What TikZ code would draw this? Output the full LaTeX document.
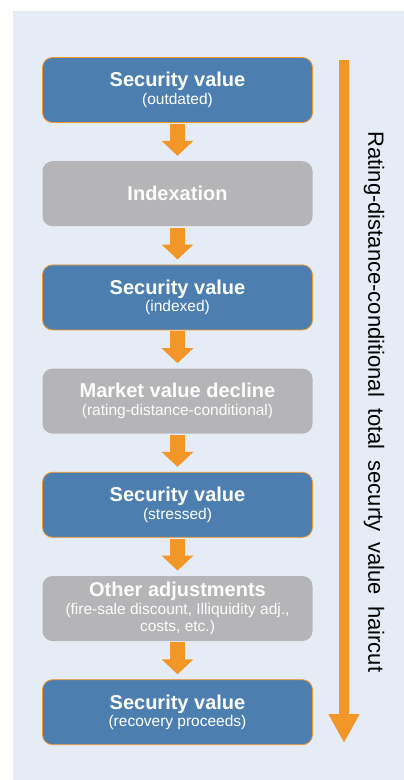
\documentclass[tikz,border=0pt]{standalone}
\usepackage{fontspec}
\setmainfont{Liberation Sans}
\usepackage{tikz}
\usetikzlibrary{positioning}
\usetikzlibrary{arrows.meta}
\definecolor{mybg}{RGB}{230, 236, 245}
\definecolor{myblue}{RGB}{76, 127, 176}
\definecolor{mygray}{RGB}{181, 181, 183}
\definecolor{myorange}{RGB}{243, 150, 40}
\newcommand{\steptitle}[1]{{\bfseries\fontsize{20}{17.5}\selectfont #1}}
\newcommand{\steptext}[2]{\steptitle{#1}\\#2}

\begin{document}
\begin{tikzpicture}[x=1pt,y=-1pt,node distance=103.7pt,on grid]
    % fondo
    \useasboundingbox (0,0) rectangle (404,780);
    \fill[mybg] (13,11) rectangle (404,780);
    \tikzstyle{every node}=[font=\fontsize{15.5}{17.5}\selectfont,text=white,align=center]
    \tikzstyle{valuebox}=[draw=myorange,line width=0.8pt,fill=myblue,rounded corners=10pt,minimum width=270pt,minimum height=65pt,inner sep=0pt]
    \tikzstyle{adjbox}=[valuebox,draw=none,fill=mygray,text=white!96!mygray]
    \tikzstyle{flow}=[draw=myorange,line width=15pt,-{Triangle[width=31pt,length=15pt]},shorten <=1pt,shorten >=5pt]
    \node[valuebox] (v_0) at (177.5,90) {\steptext{Security value}{(outdated)}};
    \node[adjbox] (a_1) [below=of v_0] {\steptitle{Indexation}};
    \node[valuebox] (v_1) [below=of a_1] {\steptext{Security value}{(indexed)}};
    \node[adjbox] (a_2) [below=of v_1] {\steptext{Market value decline}{(rating-distance-conditional)}};
    \node[valuebox] (v_2) [below=of a_2] {\steptext{Security value}{(stressed)}};
    \node[adjbox] (a_3) [below=of v_2] {\steptext{Other adjustments}{(fire-sale discount, Illiquidity adj.,\\costs, etc.)}};
    \node[valuebox] (v_3) [below=of a_3] {\steptext{Security value}{(recovery proceeds)}};

    \path
    (v_0) edge[flow] (a_1)
    (a_1) edge[flow] (v_1)
    (v_1) edge[flow] (a_2)
    (a_2) edge[flow] (v_2)
    (v_2) edge[flow] (a_3)
    (a_3) edge[flow] (v_3);

    % flecha del haircut total
    \coordinate (h_top) at (344,60);
    \coordinate (h_end) at (344,743);
    \draw[myorange,line width=10pt,-{Triangle[width=29pt,length=29pt]}] (h_top) -- (h_end);
    \node[rotate=-90,text=black,inner sep=0pt,font={\fontsize{22}{26}\selectfont\spaceskip=0.5em\relax}] (h_lab) at (374,402) {Rating-distance-conditional total securty value haircut};
\end{tikzpicture}
\end{document}
